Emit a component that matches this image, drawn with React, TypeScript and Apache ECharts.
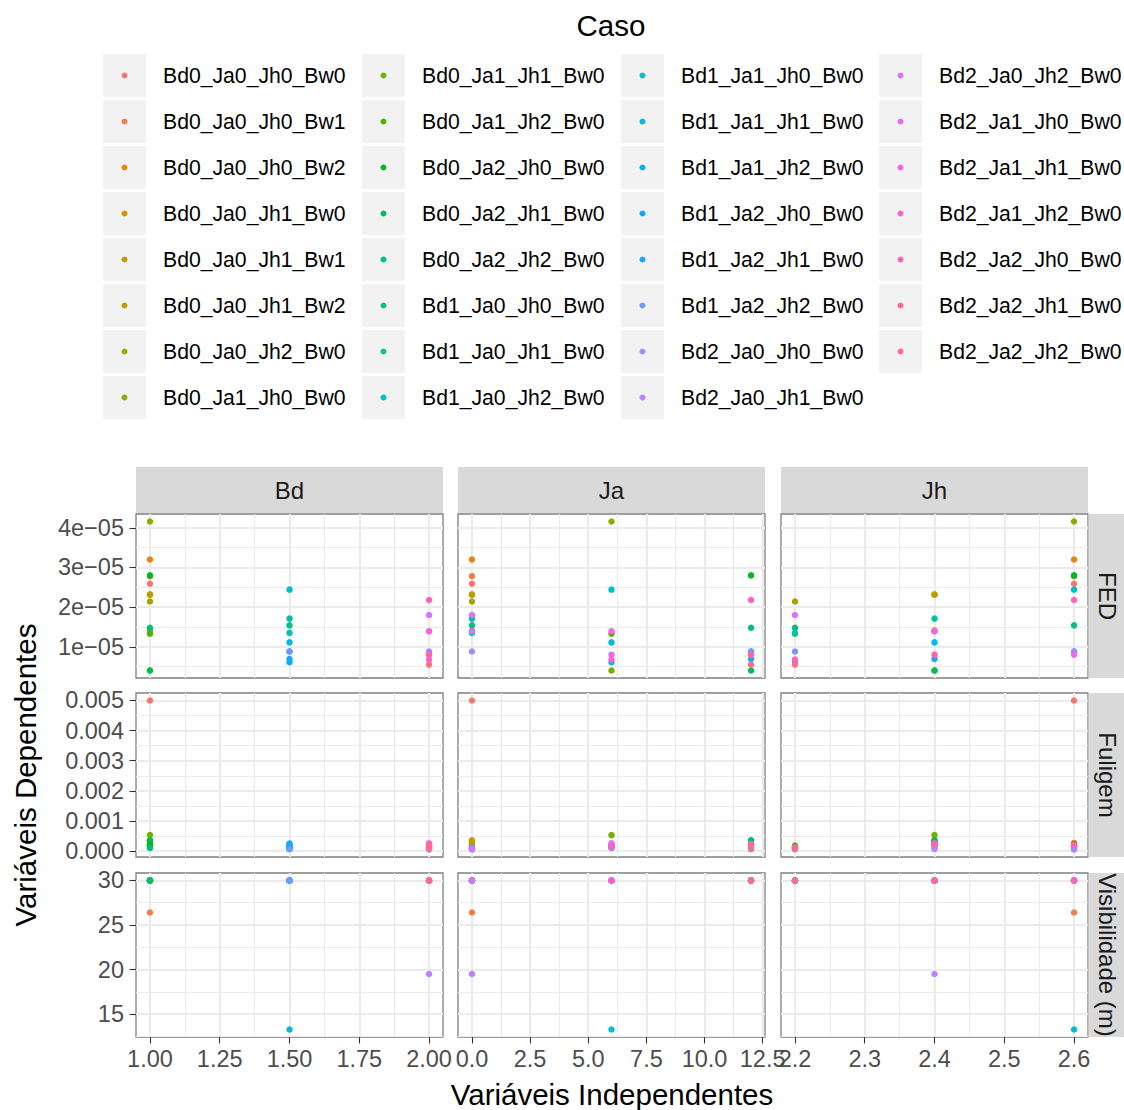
import React, { useEffect, useRef } from "react";
import * as echarts from "echarts";

// ---------- DATA ----------
const cases = [
  "Bd0_Ja0_Jh0_Bw0", "Bd0_Ja0_Jh0_Bw1", "Bd0_Ja0_Jh0_Bw2", "Bd0_Ja0_Jh1_Bw0",
  "Bd0_Ja0_Jh1_Bw1", "Bd0_Ja0_Jh1_Bw2", "Bd0_Ja0_Jh2_Bw0", "Bd0_Ja1_Jh0_Bw0",
  "Bd0_Ja1_Jh1_Bw0", "Bd0_Ja1_Jh2_Bw0", "Bd0_Ja2_Jh0_Bw0", "Bd0_Ja2_Jh1_Bw0",
  "Bd0_Ja2_Jh2_Bw0", "Bd1_Ja0_Jh0_Bw0", "Bd1_Ja0_Jh1_Bw0", "Bd1_Ja0_Jh2_Bw0",
  "Bd1_Ja1_Jh0_Bw0", "Bd1_Ja1_Jh1_Bw0", "Bd1_Ja1_Jh2_Bw0", "Bd1_Ja2_Jh0_Bw0",
  "Bd1_Ja2_Jh1_Bw0", "Bd1_Ja2_Jh2_Bw0", "Bd2_Ja0_Jh0_Bw0", "Bd2_Ja0_Jh1_Bw0",
  "Bd2_Ja0_Jh2_Bw0", "Bd2_Ja1_Jh0_Bw0", "Bd2_Ja1_Jh1_Bw0", "Bd2_Ja1_Jh2_Bw0",
  "Bd2_Ja2_Jh0_Bw0", "Bd2_Ja2_Jh1_Bw0", "Bd2_Ja2_Jh2_Bw0",
];

// independent variables per case
const bdValues = [1, 1, 1, 1, 1, 1, 1, 1, 1, 1, 1, 1, 1, 1.5, 1.5, 1.5, 1.5, 1.5, 1.5, 1.5, 1.5, 1.5, 2, 2, 2, 2, 2, 2, 2, 2, 2];
const jaValues = [0, 0, 0, 0, 0, 0, 0, 6, 6, 6, 12, 12, 12, 0, 0, 0, 6, 6, 6, 12, 12, 12, 0, 0, 0, 6, 6, 6, 12, 12, 12];
const jhValues = [2.6, 2.6, 2.6, 2.4, 2.4, 2.4, 2.2, 2.6, 2.4, 2.2, 2.6, 2.4, 2.2, 2.6, 2.4, 2.2, 2.6, 2.4, 2.2, 2.6, 2.4, 2.2, 2.6, 2.4, 2.2, 2.6, 2.4, 2.2, 2.6, 2.4, 2.2];

// dependent variables per case
const fedValues = [
  2.59e-5, 2.78e-5, 3.2e-5, 1.41e-5, 2.32e-5, 2.31e-5, 2.14e-5, 4.16e-5,
  0.4e-5, 1.33e-5, 2.8e-5, 0.4e-5, 1.48e-5, 1.54e-5, 1.71e-5, 1.35e-5,
  2.44e-5, 1.11e-5, 0.61e-5, 0.88e-5, 0.69e-5, 0.88e-5, 0.88e-5, 1.39e-5,
  1.8e-5, 0.8e-5, 1.39e-5, 0.68e-5, 2.18e-5, 0.8e-5, 0.55e-5,
];
const fuligemValues = [
  0.005, 0.0002, 0.00027, 0.0003, 0.00033, 0.00036, 0.00014, 0.00016,
  0.00053, 0.00018, 0.00022, 0.00036, 0.0001, 0.00008, 0.00012, 0.00007,
  0.00012, 0.00022, 0.0001, 0.00015, 0.00025, 0.00006, 0.00005, 0.00007,
  0.00009, 0.00018, 0.00026, 0.00012, 0.0002, 0.00022, 0.0001,
];
const visValues = [
  30, 26.4, 30, 30, 30, 30, 30, 30, 30, 30, 30, 30, 30, 30, 30, 30,
  13.27, 30, 30, 30, 30, 30, 30, 19.5, 30, 30, 30, 30, 30, 30, 30,
];

const colNames = ["Bd", "Ja", "Jh"];
const rowNames = ["FED", "Fuligem", "Visibilidade (m)"];

const bdTicks = [1, 1.25, 1.5, 1.75, 2];
const bdTickLabels = ["1.00", "1.25", "1.50", "1.75", "2.00"];
const jaTicks = [0, 2.5, 5, 7.5, 10, 12.5];
const jaTickLabels = ["0.0", "2.5", "5.0", "7.5", "10.0", "12.5"];
const jhTicks = [2.2, 2.3, 2.4, 2.5, 2.6];
const jhTickLabels = ["2.2", "2.3", "2.4", "2.5", "2.6"];
const fedTicks = [1e-5, 2e-5, 3e-5, 4e-5];
const fedTickLabels = ["1e\u221205", "2e\u221205", "3e\u221205", "4e\u221205"];
const fuligemTicks = [0, 0.001, 0.002, 0.003, 0.004, 0.005];
const fuligemTickLabels = ["0.000", "0.001", "0.002", "0.003", "0.004", "0.005"];
const visTicks = [15, 20, 25, 30];
const visTickLabels = ["15", "20", "25", "30"];

// ---------- HELPERS ----------
function hcl(h: number, c = 100, l = 65): string {
  const hr = (h * Math.PI) / 180;
  const U = c * Math.cos(hr);
  const V = c * Math.sin(hr);
  const Xn = 95.047, Yn = 100, Zn = 108.883;
  const den = Xn + 15 * Yn + 3 * Zn;
  const un = (4 * Xn) / den, vn = (9 * Yn) / den;
  const Y = l > 8 ? Yn * Math.pow((l + 16) / 116, 3) : (Yn * l) / 903.3;
  const u = U / (13 * l) + un;
  const v = V / (13 * l) + vn;
  const X = (9 * Y * u) / (4 * v);
  const Z = -X / 3 - 5 * Y + (3 * Y) / v;
  const x = X / 100, y = Y / 100, z = Z / 100;
  const lin = [
    3.240479 * x - 1.53715 * y - 0.498535 * z,
    -0.969256 * x + 1.875992 * y + 0.041556 * z,
    0.055648 * x - 0.204043 * y + 1.057311 * z,
  ];
  const g = (t: number) => {
    const s = t <= 0.0031308 ? 12.92 * t : 1.055 * Math.pow(t, 1 / 2.4) - 0.055;
    const n = Math.round(Math.max(0, Math.min(1, s)) * 255);
    return n.toString(16).padStart(2, "0");
  };
  return "#" + lin.map(g).join("");
}

const colors = cases.map((_, i) => hcl(15 + (i * 360) / cases.length));

function expandRange(vals: number[]) {
  const lo = Math.min(...vals), hi = Math.max(...vals);
  const d = (hi - lo) * 0.05;
  return { min: lo - d, max: hi + d };
}
function minorTicks(major: number[], min: number, max: number) {
  const step = major[1] - major[0];
  const out: number[] = [];
  const candidates = [major[0] - step / 2, ...major.map((m) => m + step / 2)];
  candidates.forEach((v) => {
    if (v > min && v < max) out.push(v);
  });
  return out;
}

const FONT = "'Liberation Sans', Arial, Helvetica, sans-serif";

// layout
const panelLefts = [136, 458, 781];
const panelTops = [514, 693, 873];
const panelW = 307;
const panelH = 164;
const TICK_FS = 23.5;
const STRIP_FS = 24;
const TITLE_FS = 29.5;
const LEGEND_FS = 21.2;

export default function App() {
  const ref = useRef<HTMLDivElement>(null);

  useEffect(() => {
    if (!ref.current) return;
    const chart = echarts.init(ref.current, undefined, { renderer: "svg" });

    const xCols = [
      { vals: bdValues, ticks: bdTicks, labels: bdTickLabels },
      { vals: jaValues, ticks: jaTicks, labels: jaTickLabels },
      { vals: jhValues, ticks: jhTicks, labels: jhTickLabels },
    ].map((c) => ({ ...c, ...expandRange(c.vals) }));
    const yRows = [
      { vals: fedValues, ticks: fedTicks, labels: fedTickLabels },
      { vals: fuligemValues, ticks: fuligemTicks, labels: fuligemTickLabels },
      { vals: visValues, ticks: visTicks, labels: visTickLabels },
    ].map((c) => ({ ...c, ...expandRange(c.vals) }));

    const fmt = (ticks: number[], labels: string[]) => (v: number) => {
      let best = 0;
      let bd = Infinity;
      ticks.forEach((t, i) => {
        const d = Math.abs(t - v);
        if (d < bd) { bd = d; best = i; }
      });
      return labels[best];
    };

    const grids: any[] = [];
    const xAxes: any[] = [];
    const yAxes: any[] = [];
    const series: any[] = [];
    const gridColor = "#EBEBEB";

    for (let r = 0; r < 3; r++) {
      for (let c = 0; c < 3; c++) {
        const gi = r * 3 + c;
        const xc = xCols[c];
        const yr = yRows[r];
        grids.push({
          left: panelLefts[c], top: panelTops[r], width: panelW, height: panelH,
          show: true, backgroundColor: "#FFFFFF", borderColor: "#7F7F7F", borderWidth: 1.3, z: 0,
        });
        const bottom = r === 2;
        const leftCol = c === 0;
        xAxes.push({
          type: "value", gridIndex: gi, position: "bottom", min: xc.min, max: xc.max,
          axisLine: { show: false },
          axisTick: { show: bottom, customValues: xc.ticks, length: 6.5, lineStyle: { color: "#333333", width: 1.1 } },
          axisLabel: {
            show: bottom, customValues: xc.ticks, formatter: fmt(xc.ticks, xc.labels),
            color: "#4D4D4D", fontSize: TICK_FS, fontFamily: FONT, margin: 10,
            showMinLabel: true, showMaxLabel: true, hideOverlap: false,
          },
          splitLine: { show: true, lineStyle: { color: gridColor, width: 2.2 } },
        });
        const xMinor = minorTicks(xc.ticks, xc.min, xc.max);
        xAxes.push({
          type: "value", gridIndex: gi, position: "top", min: xc.min, max: xc.max,
          axisLine: { show: false },
          axisTick: { show: false, customValues: xMinor },
          axisLabel: { show: false, customValues: xMinor },
          splitLine: { show: true, lineStyle: { color: gridColor, width: 1.1 } },
        });
        yAxes.push({
          type: "value", gridIndex: gi, position: "left", min: yr.min, max: yr.max,
          axisLine: { show: false },
          axisTick: { show: leftCol, customValues: yr.ticks, length: 6.5, lineStyle: { color: "#333333", width: 1.1 } },
          axisLabel: {
            show: leftCol, customValues: yr.ticks, formatter: fmt(yr.ticks, yr.labels),
            color: "#4D4D4D", fontSize: TICK_FS, fontFamily: FONT, margin: 12,
            showMinLabel: true, showMaxLabel: true, hideOverlap: false,
          },
          splitLine: { show: true, lineStyle: { color: gridColor, width: 2.2 } },
        });
        const yMinor = minorTicks(yr.ticks, yr.min, yr.max);
        yAxes.push({
          type: "value", gridIndex: gi, position: "right", min: yr.min, max: yr.max,
          axisLine: { show: false },
          axisTick: { show: false, customValues: yMinor },
          axisLabel: { show: false, customValues: yMinor },
          splitLine: { show: true, lineStyle: { color: gridColor, width: 1.1 } },
        });

        cases.forEach((name, i) => {
          series.push({
            type: "scatter",
            name,
            xAxisIndex: gi * 2,
            yAxisIndex: gi * 2,
            symbol: "circle",
            symbolSize: 6.5,
            silent: true,
            itemStyle: { color: colors[i], opacity: 1 },
            data: [[xc.vals[i], yr.vals[i]]],
            z: 3,
          });
        });
      }
    }

    // legend: 4 columns, 8 rows
    const legendLefts = [103, 362, 621, 879];
    const legendTop = 54;
    const keySize = 43;
    const rowStep = 46;
    const perCol = 8;
    const dot = 6;
    const labelOffset = 60; // from key left to label start
    const legends: any[] = [];
    const graphics: any[] = [];
    legendLefts.forEach((lx, k) => {
      const names = cases.slice(k * perCol, (k + 1) * perCol);
      const legLeft = lx + keySize / 2 - dot / 2;
      const spacer = labelOffset - (keySize / 2 - dot / 2) - dot - 5;
      legends.push({
        orient: "vertical",
        left: legLeft,
        top: legendTop,
        itemWidth: dot,
        itemHeight: dot,
        itemGap: rowStep - keySize,
        icon: "circle",
        padding: 0,
        selectedMode: false,
        z: 10,
        data: names,
        formatter: (n: string) => `{p|}${n}`,
        textStyle: {
          color: "#000000", fontSize: LEGEND_FS, fontFamily: FONT, lineHeight: keySize,
          rich: { p: { width: spacer, lineHeight: keySize } },
        },
      });
      names.forEach((_, j) => {
        graphics.push({
          type: "rect",
          shape: { x: lx, y: legendTop + j * rowStep, width: keySize, height: keySize },
          style: { fill: "#F2F2F2" },
          z: 1,
          silent: true,
        });
      });
    });

    // strips
    colNames.forEach((nm, c) => {
      graphics.push({
        type: "rect",
        shape: { x: panelLefts[c], y: 467, width: panelW, height: 46 },
        style: { fill: "#D9D9D9" }, silent: true,
      });
      graphics.push({
        type: "text",
        x: panelLefts[c] + panelW / 2, y: 490,
        style: { text: nm, fill: "#1A1A1A", font: `${STRIP_FS}px ${FONT}`, align: "center", verticalAlign: "middle" },
        silent: true,
      });
    });
    rowNames.forEach((nm, r) => {
      graphics.push({
        type: "rect",
        shape: { x: 1088.5, y: panelTops[r], width: 36, height: panelH },
        style: { fill: "#D9D9D9" }, silent: true,
      });
      graphics.push({
        type: "text",
        x: 1107, y: panelTops[r] + panelH / 2,
        rotation: -Math.PI / 2,
        style: { text: nm, fill: "#1A1A1A", font: `${STRIP_FS}px ${FONT}`, align: "center", verticalAlign: "middle" },
        silent: true,
      });
    });
    // axis titles
    graphics.push({
      type: "text", x: 25, y: 775, rotation: Math.PI / 2,
      style: { text: "Variáveis Dependentes", fill: "#000000", font: `${TITLE_FS}px ${FONT}`, align: "center", verticalAlign: "middle" },
      silent: true,
    });
    graphics.push({
      type: "text", x: 612, y: 1094,
      style: { text: "Variáveis Independentes", fill: "#000000", font: `${TITLE_FS}px ${FONT}`, align: "center", verticalAlign: "middle" },
      silent: true,
    });
    graphics.push({
      type: "text", x: 611, y: 25,
      style: { text: "Caso", fill: "#000000", font: `${TITLE_FS}px ${FONT}`, align: "center", verticalAlign: "middle" },
      silent: true,
    });

    chart.setOption({
      animation: false,
      backgroundColor: "#FFFFFF",
      textStyle: { fontFamily: FONT },
      grid: grids,
      xAxis: xAxes,
      yAxis: yAxes,
      legend: legends,
      graphic: { elements: graphics },
      series,
    });

    return () => chart.dispose();
  }, []);

  return (
    <div
      ref={ref}
      style={{ position: "fixed", left: 0, top: 0, width: 1124, height: 1110 }}
    />
  );
}
